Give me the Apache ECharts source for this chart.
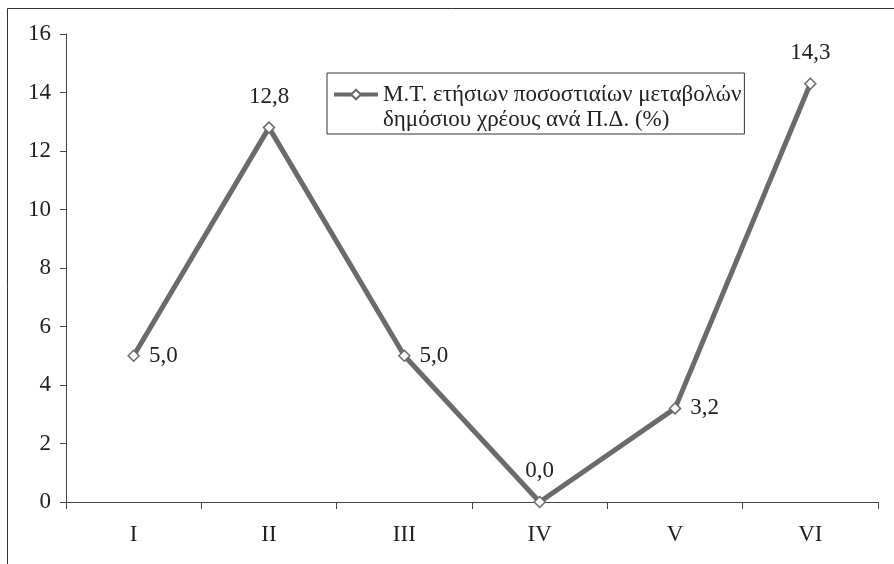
<!DOCTYPE html>
<html lang="el">
<head>
<meta charset="UTF-8">
<title>Μ.Τ. ετήσιων ποσοστιαίων μεταβολών</title>
<script src="https://cdn.jsdelivr.net/npm/echarts@6/dist/echarts.min.js"></script>
<style>
  html, body { margin: 0; padding: 0; background: #fff; }
  #main { width: 894px; height: 564px; }
</style>
</head>
<body>
<div id="main"></div>
<script>
var categories = ['I', 'II', 'III', 'IV', 'V', 'VI'];
var values = [5.0, 12.8, 5.0, 0.0, 3.2, 14.3];
// where each value label sits relative to its point
var labelPos = ['right', 'top', 'right', 'top', 'right', 'top'];
var seriesName = 'Μ.Τ. ετήσιων ποσοστιαίων μεταβολών\nδημόσιου χρέους ανά Π.Δ. (%)';

var font = '"Liberation Serif", "Times New Roman", serif';
var fontSize = 23;
var lineColor = '#6b6b6b';

var chart = echarts.init(document.getElementById('main'));

var seriesData = [];
for (var i = 0; i < values.length; i++) {
    seriesData.push({
        value: values[i],
        label: { position: labelPos[i], distance: labelPos[i] == 'top' ? 13 : 9 }
    });
}

chart.setOption({
    animation: false,
    backgroundColor: '#fff',
    textStyle: { fontFamily: font },
    graphic: [{
        type: 'rect',
        shape: { x: 7.5, y: 8.5, width: 1000, height: 1000 },
        style: { fill: 'none', stroke: '#333', lineWidth: 1 },
        silent: true
    }],
    grid: { left: 66, right: 16, top: 34, bottom: 62 },
    legend: {
        left: 327,
        top: 73,
        orient: 'vertical',
        // blank first line keeps the icon level with the first text line,
        // the negative top padding takes its height back out of the box
        formatter: function (name) { return ' \n' + name; },
        padding: [-16, 3, 2, 5],
        borderColor: '#333',
        borderWidth: 1,
        itemWidth: 44,
        itemHeight: 12,
        lineStyle: { width: 4 },
        textStyle: {
            fontFamily: font,
            fontSize: fontSize,
            color: '#222',
            lineHeight: 25
        },
        data: [seriesName]
    },
    xAxis: {
        type: 'category',
        data: categories,
        boundaryGap: true,
        axisLine: { lineStyle: { color: '#444', width: 1 } },
        axisTick: { show: true, length: 7, lineStyle: { color: '#444' } },
        axisLabel: { margin: 21, fontFamily: font, fontSize: fontSize, color: '#222' },
        splitLine: { show: false }
    },
    yAxis: {
        type: 'value',
        min: 0,
        max: 16,
        interval: 2,
        axisLine: { show: true, lineStyle: { color: '#444', width: 1 } },
        axisTick: { show: true, length: 6, lineStyle: { color: '#444' } },
        axisLabel: { margin: 15, fontFamily: font, fontSize: fontSize, color: '#222' },
        splitLine: { show: false }
    },
    series: [{
        name: seriesName,
        type: 'line',
        data: seriesData,
        symbol: 'diamond',
        symbolSize: 11,
        showAllSymbol: true,
        lineStyle: { color: lineColor, width: 5 },
        itemStyle: { color: '#fff', borderColor: lineColor, borderWidth: 1.5 },
        label: {
            show: true,
            fontFamily: font,
            fontSize: fontSize,
            color: '#222',
            formatter: function (p) { return p.value.toFixed(1).replace('.', ','); }
        },
        emphasis: { disabled: true }
    }]
});
</script>
</body>
</html>
